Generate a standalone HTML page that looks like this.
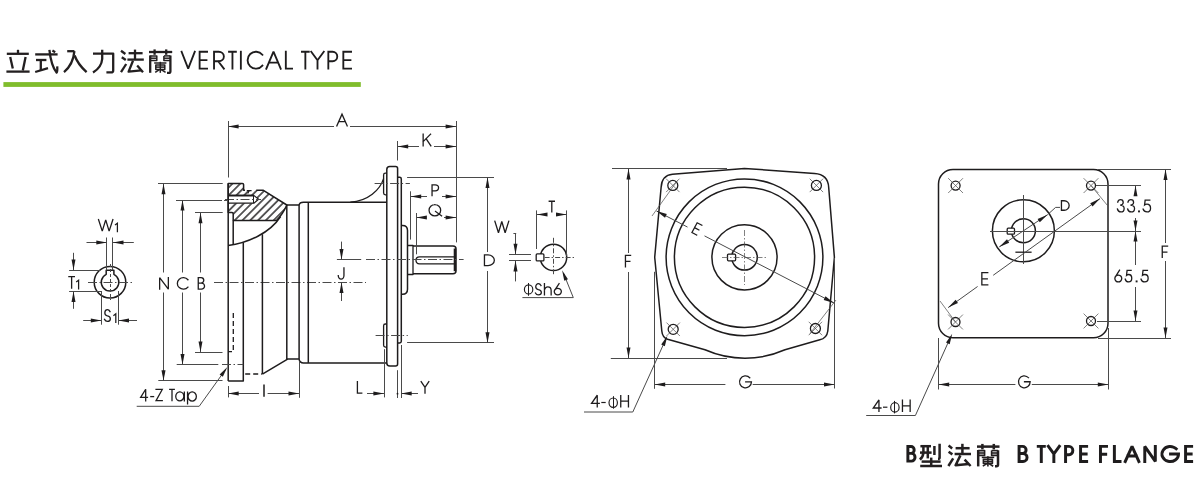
<!DOCTYPE html>
<html><head><meta charset="utf-8"><style>
html,body{margin:0;padding:0;background:#fff;}
body{width:1200px;height:500px;overflow:hidden;font-family:"Liberation Sans",sans-serif;}
svg{display:block;}
</style></head><body>
<svg width="1200" height="500" viewBox="0 0 1200 500">
<rect width="1200" height="500" fill="#fff"/>
<path d="M18,49.8 V53" stroke="#231f20" stroke-width="2.3" fill="none" stroke-linejoin="round" stroke-linecap="butt"/>
<path d="M6.8,53.8 H28.8" stroke="#231f20" stroke-width="2.3" fill="none" stroke-linejoin="round" stroke-linecap="butt"/>
<path d="M10.2,57 L12.8,68.6" stroke="#231f20" stroke-width="2.3" fill="none" stroke-linejoin="round" stroke-linecap="butt"/>
<path d="M25.6,57 L22.8,70.6" stroke="#231f20" stroke-width="2.3" fill="none" stroke-linejoin="round" stroke-linecap="butt"/>
<path d="M6.4,71.6 H29.6" stroke="#231f20" stroke-width="2.3" fill="none" stroke-linejoin="round" stroke-linecap="butt"/>
<path d="M35.2,54.4 H57.6" stroke="#231f20" stroke-width="2.3" fill="none" stroke-linejoin="round" stroke-linecap="butt"/>
<path d="M36,60 H46.4" stroke="#231f20" stroke-width="2.3" fill="none" stroke-linejoin="round" stroke-linecap="butt"/>
<path d="M40.8,60 V70.4" stroke="#231f20" stroke-width="2.3" fill="none" stroke-linejoin="round" stroke-linecap="butt"/>
<path d="M35.2,72 L48,68.2" stroke="#231f20" stroke-width="2.3" fill="none" stroke-linejoin="round" stroke-linecap="butt"/>
<path d="M49.4,49.8 C50.5,60 53,68 56.6,72.6 C57.3,72 57.4,69 57.2,66.4" stroke="#231f20" stroke-width="2.3" fill="none" stroke-linejoin="round" stroke-linecap="butt"/>
<path d="M52.4,50.6 L55.2,52.2" stroke="#231f20" stroke-width="2.3" fill="none" stroke-linejoin="round" stroke-linecap="butt"/>
<path d="M67.2,51.2 H74.4" stroke="#231f20" stroke-width="2.3" fill="none" stroke-linejoin="round" stroke-linecap="butt"/>
<path d="M74.4,51.2 C73.5,61 69,68 64,72.2" stroke="#231f20" stroke-width="2.3" fill="none" stroke-linejoin="round" stroke-linecap="butt"/>
<path d="M74.6,55.5 C77,62 82,68 86.6,72.2" stroke="#231f20" stroke-width="2.3" fill="none" stroke-linejoin="round" stroke-linecap="butt"/>
<path d="M93,53.6 H113.2 V70.4 Q113.2,72.4 111,72.4 H106.4" stroke="#231f20" stroke-width="2.3" fill="none" stroke-linejoin="round" stroke-linecap="butt"/>
<path d="M102.2,49.8 V59 C101.8,64 98,69.5 93,72.6" stroke="#231f20" stroke-width="2.3" fill="none" stroke-linejoin="round" stroke-linecap="butt"/>
<path d="M121,50.8 L125.4,54" stroke="#231f20" stroke-width="2.3" fill="none" stroke-linejoin="round" stroke-linecap="butt"/>
<path d="M121.8,57.2 L125.8,60" stroke="#231f20" stroke-width="2.3" fill="none" stroke-linejoin="round" stroke-linecap="butt"/>
<path d="M121,72.2 L126.2,64" stroke="#231f20" stroke-width="2.3" fill="none" stroke-linejoin="round" stroke-linecap="butt"/>
<path d="M128.6,53.2 H142.6" stroke="#231f20" stroke-width="2.3" fill="none" stroke-linejoin="round" stroke-linecap="butt"/>
<path d="M135,49.6 V59.6" stroke="#231f20" stroke-width="2.3" fill="none" stroke-linejoin="round" stroke-linecap="butt"/>
<path d="M127.4,59.6 H143.8" stroke="#231f20" stroke-width="2.3" fill="none" stroke-linejoin="round" stroke-linecap="butt"/>
<path d="M133,60.8 L128.6,71.6 L141.2,70.4" stroke="#231f20" stroke-width="2.3" fill="none" stroke-linejoin="round" stroke-linecap="butt"/>
<path d="M137.2,65.6 L143,72.2" stroke="#231f20" stroke-width="2.3" fill="none" stroke-linejoin="round" stroke-linecap="butt"/>
<path d="M149,52 H172.2" stroke="#231f20" stroke-width="2.3" fill="none" stroke-linejoin="round" stroke-linecap="butt"/>
<path d="M154.6,49.4 V54.8" stroke="#231f20" stroke-width="2.3" fill="none" stroke-linejoin="round" stroke-linecap="butt"/>
<path d="M166.2,49.4 V54.8" stroke="#231f20" stroke-width="2.3" fill="none" stroke-linejoin="round" stroke-linecap="butt"/>
<path d="M150.2,55.4 V72.8" stroke="#231f20" stroke-width="2.3" fill="none" stroke-linejoin="round" stroke-linecap="butt"/>
<path d="M170.4,55.6 V71.4 Q170.4,72.8 168.6,72.8 H167" stroke="#231f20" stroke-width="2.3" fill="none" stroke-linejoin="round" stroke-linecap="butt"/>
<path d="M150.2,55.9 H156.8 V60.6 H150.2" stroke="#231f20" stroke-width="1.5" fill="none" stroke-linejoin="round" stroke-linecap="butt"/>
<path d="M150.2,58.2 H156.8" stroke="#231f20" stroke-width="1.5" fill="none" stroke-linejoin="round" stroke-linecap="butt"/>
<path d="M163.9,55.9 H170.4" stroke="#231f20" stroke-width="1.5" fill="none" stroke-linejoin="round" stroke-linecap="butt"/>
<path d="M163.9,55.9 V60.6 H170.4" stroke="#231f20" stroke-width="1.5" fill="none" stroke-linejoin="round" stroke-linecap="butt"/>
<path d="M163.9,58.2 H170.4" stroke="#231f20" stroke-width="1.5" fill="none" stroke-linejoin="round" stroke-linecap="butt"/>
<path d="M154.2,63.0 H166.4" stroke="#231f20" stroke-width="1.5" fill="none" stroke-linejoin="round" stroke-linecap="butt"/>
<path d="M155.8,64.9 H164.8 V69.4 H155.8 Z" stroke="#231f20" stroke-width="1.5" fill="none" stroke-linejoin="round" stroke-linecap="butt"/>
<path d="M160.3,61.8 V72.8" stroke="#231f20" stroke-width="1.5" fill="none" stroke-linejoin="round" stroke-linecap="butt"/>
<path d="M155.8,67.1 H164.8" stroke="#231f20" stroke-width="1.5" fill="none" stroke-linejoin="round" stroke-linecap="butt"/>
<path d="M159.4,69.6 L155.2,72.4" stroke="#231f20" stroke-width="1.5" fill="none" stroke-linejoin="round" stroke-linecap="butt"/>
<path d="M161.2,69.6 L165.6,72.4" stroke="#231f20" stroke-width="1.5" fill="none" stroke-linejoin="round" stroke-linecap="butt"/>
<path d="M0,0 L0.5,1 L1,0" transform="translate(181.62 51.72) scale(13.150 16.950)" stroke="#1e1c1d" stroke-width="1.85" fill="none" vector-effect="non-scaling-stroke" stroke-linejoin="miter" stroke-miterlimit="2" stroke-linecap="square"/>
<path d="M1,0 H0 V1 H1 M0,0.5 H0.92" transform="translate(199.62 51.72) scale(7.450 16.950)" stroke="#1e1c1d" stroke-width="1.85" fill="none" vector-effect="non-scaling-stroke" stroke-linejoin="miter" stroke-miterlimit="2" stroke-linecap="square"/>
<path d="M0,1 V0 H0.48 A0.52,0.28 0 0 1 0.48,0.56 H0 M0.42,0.56 L1,1" transform="translate(214.03 51.72) scale(9.850 16.950)" stroke="#1e1c1d" stroke-width="1.85" fill="none" vector-effect="non-scaling-stroke" stroke-linejoin="miter" stroke-miterlimit="2" stroke-linecap="square"/>
<path d="M0,0 H1 M0.5,0 V1" transform="translate(229.03 51.72) scale(6.850 16.950)" stroke="#1e1c1d" stroke-width="1.85" fill="none" vector-effect="non-scaling-stroke" stroke-linejoin="miter" stroke-miterlimit="2" stroke-linecap="square"/>
<path d="M0.5,0 V1" transform="translate(240.93 51.72) scale(-0.150 16.950)" stroke="#1e1c1d" stroke-width="1.85" fill="none" vector-effect="non-scaling-stroke" stroke-linejoin="miter" stroke-miterlimit="2" stroke-linecap="square"/>
<path d="M1,0.18 A0.545,0.5 0 1 0 1,0.82" transform="translate(247.03 51.72) scale(15.350 16.950)" stroke="#1e1c1d" stroke-width="1.85" fill="none" vector-effect="non-scaling-stroke" stroke-linejoin="miter" stroke-miterlimit="2" stroke-linecap="square"/>
<path d="M0,1 L0.5,0 L1,1 M0.19,0.64 H0.81" transform="translate(266.32 51.72) scale(14.350 16.950)" stroke="#1e1c1d" stroke-width="1.85" fill="none" vector-effect="non-scaling-stroke" stroke-linejoin="miter" stroke-miterlimit="2" stroke-linecap="square"/>
<path d="M0,0 V1 H1" transform="translate(285.82 51.72) scale(6.250 16.950)" stroke="#1e1c1d" stroke-width="1.85" fill="none" vector-effect="non-scaling-stroke" stroke-linejoin="miter" stroke-miterlimit="2" stroke-linecap="square"/>
<path d="M0,0 H1 M0.5,0 V1" transform="translate(301.93 51.72) scale(6.850 16.950)" stroke="#1e1c1d" stroke-width="1.85" fill="none" vector-effect="non-scaling-stroke" stroke-linejoin="miter" stroke-miterlimit="2" stroke-linecap="square"/>
<path d="M0,0 L0.5,0.5 L1,0 M0.5,0.5 V1" transform="translate(311.23 51.72) scale(12.550 16.950)" stroke="#1e1c1d" stroke-width="1.85" fill="none" vector-effect="non-scaling-stroke" stroke-linejoin="miter" stroke-miterlimit="2" stroke-linecap="square"/>
<path d="M0,1 V0 H0.48 A0.52,0.28 0 0 1 0.48,0.56 H0" transform="translate(328.32 51.72) scale(8.950 16.950)" stroke="#1e1c1d" stroke-width="1.85" fill="none" vector-effect="non-scaling-stroke" stroke-linejoin="miter" stroke-miterlimit="2" stroke-linecap="square"/>
<path d="M1,0 H0 V1 H1 M0,0.5 H0.92" transform="translate(343.32 51.72) scale(7.750 16.950)" stroke="#1e1c1d" stroke-width="1.85" fill="none" vector-effect="non-scaling-stroke" stroke-linejoin="miter" stroke-miterlimit="2" stroke-linecap="square"/>
<rect x="3.4" y="82.1" width="357.4" height="4.8" fill="#80bd2c"/>
<circle cx="110.00" cy="282.20" r="15.80" stroke="#1e1c1d" stroke-width="1.5" fill="none"/>
<path d="M106.2,274.31 V270.3 H113.9 V274.31 A8.8,8.8 0 1 1 106.2,274.31 Z" stroke="#1e1c1d" stroke-width="1.5" fill="none" stroke-linejoin="round" />
<line x1="88.00" y1="282.50" x2="132.00" y2="282.50" stroke="#4a4a4a" stroke-width="1.0" stroke-dasharray="9 2.5 1.5 2.5" stroke-linecap="butt"/>
<line x1="110.50" y1="264.00" x2="110.50" y2="300.00" stroke="#4a4a4a" stroke-width="1.0" stroke-dasharray="3 2" stroke-linecap="butt"/>
<line x1="106.50" y1="237.50" x2="106.50" y2="270.30" stroke="#4a4a4a" stroke-width="1.0" stroke-linecap="butt"/>
<line x1="112.50" y1="237.50" x2="112.50" y2="270.30" stroke="#4a4a4a" stroke-width="1.0" stroke-linecap="butt"/>
<line x1="86.50" y1="242.50" x2="106.90" y2="242.50" stroke="#4a4a4a" stroke-width="1.0" stroke-linecap="butt"/>
<path d="M106.90,242.50 L96.30,244.50 L96.30,240.50 Z" fill="#1e1c1d"/>
<line x1="133.80" y1="242.50" x2="112.90" y2="242.50" stroke="#4a4a4a" stroke-width="1.0" stroke-linecap="butt"/>
<path d="M112.90,242.50 L123.50,240.50 L123.50,244.50 Z" fill="#1e1c1d"/>
<path d="M0,0 L0.26,1 L0.5,0.02 L0.74,1 L1,0" transform="translate(98.55 219.65) scale(14.300 11.500)" stroke="#1e1c1d" stroke-width="1.3" fill="none" vector-effect="non-scaling-stroke" stroke-linejoin="miter" stroke-miterlimit="3" stroke-linecap="square"/>
<path d="M115.00,225.10 L117.40,223.20 V232.20" stroke="#1e1c1d" stroke-width="1.25" fill="none" stroke-linejoin="miter"/>
<line x1="69.10" y1="270.50" x2="100.00" y2="270.50" stroke="#4a4a4a" stroke-width="1.0" stroke-linecap="butt"/>
<line x1="69.10" y1="291.50" x2="102.00" y2="291.50" stroke="#4a4a4a" stroke-width="1.0" stroke-linecap="butt"/>
<line x1="73.50" y1="252.80" x2="73.50" y2="270.10" stroke="#4a4a4a" stroke-width="1.0" stroke-linecap="butt"/>
<path d="M73.50,270.10 L71.50,259.50 L75.50,259.50 Z" fill="#1e1c1d"/>
<line x1="73.50" y1="308.80" x2="73.50" y2="291.30" stroke="#4a4a4a" stroke-width="1.0" stroke-linecap="butt"/>
<path d="M73.50,291.30 L75.50,301.90 L71.50,301.90 Z" fill="#1e1c1d"/>
<path d="M0,0 H1 M0.5,0 V1" transform="translate(68.90 276.65) scale(5.450 11.450)" stroke="#1e1c1d" stroke-width="1.3" fill="none" vector-effect="non-scaling-stroke" stroke-linejoin="miter" stroke-miterlimit="3" stroke-linecap="square"/>
<path d="M76.20,282.10 L78.60,280.20 V289.50" stroke="#1e1c1d" stroke-width="1.25" fill="none" stroke-linejoin="miter"/>
<line x1="101.50" y1="291.00" x2="101.50" y2="324.70" stroke="#4a4a4a" stroke-width="1.0" stroke-linecap="butt"/>
<line x1="118.50" y1="291.00" x2="118.50" y2="324.70" stroke="#4a4a4a" stroke-width="1.0" stroke-linecap="butt"/>
<line x1="83.20" y1="320.50" x2="101.40" y2="320.50" stroke="#4a4a4a" stroke-width="1.0" stroke-linecap="butt"/>
<path d="M101.40,320.50 L90.80,322.50 L90.80,318.50 Z" fill="#1e1c1d"/>
<line x1="137.00" y1="320.50" x2="118.40" y2="320.50" stroke="#4a4a4a" stroke-width="1.0" stroke-linecap="butt"/>
<path d="M118.40,320.50 L129.00,318.50 L129.00,322.50 Z" fill="#1e1c1d"/>
<path d="M0.94,0.17 C0.82,0.05 0.66,0 0.5,0 C0.24,0 0.05,0.12 0.05,0.28 C0.05,0.45 0.25,0.5 0.5,0.53 C0.8,0.56 1,0.64 1,0.79 C1,0.92 0.78,1 0.5,1 C0.3,1 0.1,0.94 0,0.83" transform="translate(104.55 309.65) scale(5.800 11.700)" stroke="#1e1c1d" stroke-width="1.3" fill="none" vector-effect="non-scaling-stroke" stroke-linejoin="miter" stroke-miterlimit="3" stroke-linecap="square"/>
<path d="M113.40,315.70 L115.80,313.80 V323.00" stroke="#1e1c1d" stroke-width="1.25" fill="none" stroke-linejoin="miter"/>
<line x1="158.00" y1="183.50" x2="222.70" y2="183.50" stroke="#4a4a4a" stroke-width="1.0" stroke-linecap="butt"/>
<line x1="176.00" y1="200.50" x2="219.00" y2="200.50" stroke="#4a4a4a" stroke-width="1.0" stroke-linecap="butt"/>
<line x1="195.00" y1="212.50" x2="222.70" y2="212.50" stroke="#4a4a4a" stroke-width="1.0" stroke-linecap="butt"/>
<line x1="158.30" y1="380.50" x2="222.50" y2="380.50" stroke="#4a4a4a" stroke-width="1.0" stroke-linecap="butt"/>
<line x1="176.70" y1="364.50" x2="218.30" y2="364.50" stroke="#4a4a4a" stroke-width="1.0" stroke-linecap="butt"/>
<line x1="195.00" y1="352.50" x2="222.50" y2="352.50" stroke="#4a4a4a" stroke-width="1.0" stroke-linecap="butt"/>
<line x1="163.50" y1="272.50" x2="163.50" y2="183.70" stroke="#4a4a4a" stroke-width="1.0" stroke-linecap="butt"/>
<path d="M163.50,183.70 L165.50,194.30 L161.50,194.30 Z" fill="#1e1c1d"/>
<line x1="163.50" y1="292.50" x2="163.50" y2="380.80" stroke="#4a4a4a" stroke-width="1.0" stroke-linecap="butt"/>
<path d="M163.50,380.80 L161.50,370.20 L165.50,370.20 Z" fill="#1e1c1d"/>
<line x1="182.50" y1="272.50" x2="182.50" y2="200.00" stroke="#4a4a4a" stroke-width="1.0" stroke-linecap="butt"/>
<path d="M182.50,200.00 L184.50,210.60 L180.50,210.60 Z" fill="#1e1c1d"/>
<line x1="182.50" y1="292.50" x2="182.50" y2="364.70" stroke="#4a4a4a" stroke-width="1.0" stroke-linecap="butt"/>
<path d="M182.50,364.70 L180.50,354.10 L184.50,354.10 Z" fill="#1e1c1d"/>
<line x1="200.50" y1="272.50" x2="200.50" y2="212.70" stroke="#4a4a4a" stroke-width="1.0" stroke-linecap="butt"/>
<path d="M200.50,212.70 L202.50,223.30 L198.50,223.30 Z" fill="#1e1c1d"/>
<line x1="200.50" y1="292.50" x2="200.50" y2="352.00" stroke="#4a4a4a" stroke-width="1.0" stroke-linecap="butt"/>
<path d="M200.50,352.00 L198.50,341.40 L202.50,341.40 Z" fill="#1e1c1d"/>
<path d="M0,1 V0 L1,1 V0" transform="translate(159.65 277.65) scale(8.700 11.500)" stroke="#1e1c1d" stroke-width="1.3" fill="none" vector-effect="non-scaling-stroke" stroke-linejoin="miter" stroke-miterlimit="3" stroke-linecap="square"/>
<path d="M1,0.18 A0.545,0.5 0 1 0 1,0.82" transform="translate(176.95 277.65) scale(11.000 11.500)" stroke="#1e1c1d" stroke-width="1.3" fill="none" vector-effect="non-scaling-stroke" stroke-linejoin="miter" stroke-miterlimit="3" stroke-linecap="square"/>
<path d="M0,0.47 H0.44 A0.44,0.235 0 0 0 0.44,0 H0 V1 H0.5 A0.5,0.265 0 0 0 0.5,0.47" transform="translate(198.25 277.65) scale(6.300 11.500)" stroke="#1e1c1d" stroke-width="1.3" fill="none" vector-effect="non-scaling-stroke" stroke-linejoin="miter" stroke-miterlimit="3" stroke-linecap="square"/>
<line x1="214.00" y1="282.50" x2="366.00" y2="282.50" stroke="#4a4a4a" stroke-width="1.0" stroke-dasharray="9 2.5 1.5 2.5" stroke-linecap="butt"/>
<defs><pattern id="hp" patternUnits="userSpaceOnUse" width="5.5" height="5.5" patternTransform="rotate(45)"><line x1="2.75" y1="0" x2="2.75" y2="5.5" stroke="#1e1c1d" stroke-width="1.4"/></pattern><clipPath id="hc"><path d="M228.2,183.4 H242.4 Q243.6,183.4 243.6,184.6 V190.3 H263.4 L286.8,205.0 Q283,214 276.4,220.5 H233.2 V213.7 Q233.2,212.5 232,212.5 H228.2 Z"/></clipPath></defs>
<rect x="225" y="180" width="65" height="45" fill="url(#hp)" clip-path="url(#hc)"/>
<path d="M228.2,195.4 H253.8 L258.6,199.3 L253.8,203.2 H228.2 Z" fill="#fff" stroke="none"/>
<path d="M256.2,190.3 H263.4 L286.8,205.0 Q283,214 276.4,220.5 H233.2 V213.7 Q233.2,212.5 232,212.5 H228.2 V183.4 H242.4 Q243.6,183.4 243.6,184.6 V190.3 H245" stroke="#1e1c1d" stroke-width="1.5" fill="none" stroke-linejoin="round" />
<path d="M228.2,195.4 H253.8 L258.6,199.3 L253.8,203.2 H228.2" stroke="#1e1c1d" stroke-width="1.2" fill="none" stroke-linejoin="round" />
<line x1="228.20" y1="195.60" x2="253.80" y2="195.60" stroke="#1e1c1d" stroke-width="1.8" stroke-linecap="butt"/>
<line x1="253.50" y1="195.40" x2="253.50" y2="203.20" stroke="#1e1c1d" stroke-width="1.0" stroke-linecap="butt"/>
<line x1="225.00" y1="199.50" x2="261.00" y2="199.50" stroke="#4a4a4a" stroke-width="1.0" stroke-dasharray="9 2.5 1.5 2.5" stroke-linecap="butt"/>
<line x1="219.00" y1="200.50" x2="228.00" y2="200.50" stroke="#4a4a4a" stroke-width="1.0" stroke-dasharray="3 2" stroke-linecap="butt"/>
<path d="M246.8,190.6 H251.6 M249.2,190.6 L247.8,193.4" stroke="#1e1c1d" stroke-width="1.1" fill="none" stroke-linejoin="round" />
<line x1="228.20" y1="183.40" x2="228.20" y2="381.10" stroke="#1e1c1d" stroke-width="1.5" stroke-linecap="butt"/>
<path d="M228.2,381.1 H243.3 V242.5" stroke="#1e1c1d" stroke-width="1.5" fill="none" stroke-linejoin="round" />
<line x1="233.20" y1="220.50" x2="233.20" y2="244.80" stroke="#1e1c1d" stroke-width="1.5" stroke-linecap="butt"/>
<path d="M228.2,245.6 C248,243 270,233 280.6,216.5" stroke="#1e1c1d" stroke-width="1.5" fill="none" stroke-linejoin="round" />
<line x1="262.40" y1="234.20" x2="262.40" y2="374.10" stroke="#1e1c1d" stroke-width="1.5" stroke-linecap="butt"/>
<path d="M286.8,205 V359.1" stroke="#1e1c1d" stroke-width="1.5" fill="none" stroke-linejoin="round" />
<path d="M286.8,205 H299.1 V359.1 H286.8 M262.4,374.1 L287.6,359.1" stroke="#1e1c1d" stroke-width="1.5" fill="none" stroke-linejoin="round" />
<path d="M299.1,205 Q299.6,202.2 303.5,202.2 H386.8" stroke="#1e1c1d" stroke-width="1.5" fill="none" stroke-linejoin="round" />
<path d="M299.1,359.1 Q299.6,362.9 303.5,362.9 H386.8" stroke="#1e1c1d" stroke-width="1.5" fill="none" stroke-linejoin="round" />
<line x1="308.30" y1="202.20" x2="308.30" y2="362.90" stroke="#1e1c1d" stroke-width="1.5" stroke-linecap="butt"/>
<line x1="245.20" y1="374.10" x2="262.00" y2="374.10" stroke="#1e1c1d" stroke-width="1.5" stroke-dasharray="5 3" stroke-linecap="butt"/>
<path d="M233.3,313 V351.7 H228.2" stroke="#1e1c1d" stroke-width="1.3" fill="none" stroke-dasharray="5 3" stroke-linejoin="round" />
<line x1="222.00" y1="364.50" x2="243.30" y2="364.50" stroke="#4a4a4a" stroke-width="1.0" stroke-dasharray="9 2.5 1.5 2.5" stroke-linecap="butt"/>
<path d="M350.4,202.2 C368,201 380,190 383.6,178.6" stroke="#1e1c1d" stroke-width="1.3" fill="none" stroke-linejoin="round" />
<path d="M136.7,406.3 H199.2 L225.6,369.5" stroke="#4a4a4a" stroke-width="1.0" fill="none" stroke-linejoin="round" />
<path d="M227.40,367.00 L222.85,376.78 L219.60,374.45 Z" fill="#1e1c1d"/>
<path d="M0.74,1 V0 L0,0.7 H1" transform="translate(140.65 389.25) scale(6.800 11.600)" stroke="#1e1c1d" stroke-width="1.3" fill="none" vector-effect="non-scaling-stroke" stroke-linejoin="miter" stroke-miterlimit="3" stroke-linecap="square"/>
<line x1="150.20" y1="396.60" x2="154.20" y2="396.60" stroke="#1e1c1d" stroke-width="1.3" stroke-linecap="butt"/>
<path d="M0,0 H1 L0,1 H1" transform="translate(156.05 389.45) scale(6.200 11.200)" stroke="#1e1c1d" stroke-width="1.3" fill="none" vector-effect="non-scaling-stroke" stroke-linejoin="miter" stroke-miterlimit="3" stroke-linecap="square"/>
<path d="M0,0 H1 M0.5,0 V1" transform="translate(169.75 389.45) scale(4.500 11.200)" stroke="#1e1c1d" stroke-width="1.3" fill="none" vector-effect="non-scaling-stroke" stroke-linejoin="miter" stroke-miterlimit="3" stroke-linecap="square"/>
<path d="M0.47,0 A0.47,0.5 0 1 0 0.47,1 A0.47,0.5 0 1 0 0.47,0 M1,0.02 V1" transform="translate(175.75 391.85) scale(8.600 9.000)" stroke="#1e1c1d" stroke-width="1.3" fill="none" vector-effect="non-scaling-stroke" stroke-linejoin="miter" stroke-miterlimit="3" stroke-linecap="square"/>
<path d="M0,0.02 V1 M0.53,0 A0.47,0.385 0 1 1 0.53,0.77 A0.47,0.385 0 1 1 0.53,0" transform="translate(187.55 391.85) scale(8.800 12.100)" stroke="#1e1c1d" stroke-width="1.3" fill="none" vector-effect="non-scaling-stroke" stroke-linejoin="miter" stroke-miterlimit="3" stroke-linecap="square"/>
<line x1="228.50" y1="386.00" x2="228.50" y2="397.40" stroke="#4a4a4a" stroke-width="1.0" stroke-linecap="butt"/>
<line x1="299.50" y1="361.50" x2="299.50" y2="397.80" stroke="#4a4a4a" stroke-width="1.0" stroke-linecap="butt"/>
<line x1="259.00" y1="393.50" x2="228.10" y2="393.50" stroke="#4a4a4a" stroke-width="1.0" stroke-linecap="butt"/>
<path d="M228.10,393.50 L238.70,391.50 L238.70,395.50 Z" fill="#1e1c1d"/>
<line x1="267.60" y1="393.50" x2="299.10" y2="393.50" stroke="#4a4a4a" stroke-width="1.0" stroke-linecap="butt"/>
<path d="M299.10,393.50 L288.50,395.50 L288.50,391.50 Z" fill="#1e1c1d"/>
<line x1="264.00" y1="384.40" x2="264.00" y2="396.70" stroke="#1e1c1d" stroke-width="1.5" stroke-linecap="butt"/>
<path d="M386.8,169.5 Q386.8,166.5 389.8,166.5 H395.6 Q397.6,166.5 397.6,168.5 V364 Q397.6,366 395.6,366 H389.8 Q386.8,366 386.8,363 Z" stroke="#1e1c1d" stroke-width="1.5" fill="none" stroke-linejoin="round" />
<path d="M397.6,177.3 H399.6 Q401.3,177.3 401.3,179 V341.2 Q401.3,342.9 399.6,342.9 H397.6" stroke="#1e1c1d" stroke-width="1.5" fill="none" stroke-linejoin="round" />
<path d="M386.8,173.1 H385.4 Q383.6,173.1 383.6,174.9 V193 Q383.6,194.8 385.4,194.8 H386.8" stroke="#1e1c1d" stroke-width="1.3" fill="none" stroke-linejoin="round" />
<path d="M386.8,324 H385.4 Q383.6,324 383.6,325.8 V345.3 Q383.6,347.1 385.4,347.1 H386.8" stroke="#1e1c1d" stroke-width="1.3" fill="none" stroke-linejoin="round" />
<line x1="374.60" y1="183.50" x2="409.90" y2="183.50" stroke="#4a4a4a" stroke-width="1.0" stroke-dasharray="9 2.5 1.5 2.5" stroke-linecap="butt"/>
<line x1="375.60" y1="335.50" x2="407.80" y2="335.50" stroke="#4a4a4a" stroke-width="1.0" stroke-dasharray="9 2.5 1.5 2.5" stroke-linecap="butt"/>
<path d="M401.3,225.4 H402.5 Q407.5,225.4 407.5,230.4 V289.2 Q407.5,294.2 402.5,294.2 H401.3" stroke="#1e1c1d" stroke-width="1.5" fill="none" stroke-linejoin="round" />
<path d="M407.5,245.5 H413 V274.5 H407.5" stroke="#1e1c1d" stroke-width="1.3" fill="none" stroke-linejoin="round" />
<path d="M413,246 H453 A3,3 0 0 1 456,249 V270.7 A3,3 0 0 1 453,273.7 H413" stroke="#1e1c1d" stroke-width="1.5" fill="none" stroke-linejoin="round" />
<line x1="454.90" y1="248.50" x2="454.90" y2="271.20" stroke="#1e1c1d" stroke-width="2.4" stroke-linecap="butt"/>
<path d="M456,256.8 H419.5 Q416,256.8 416,260.3 Q416,263.8 419.5,263.8 H456" stroke="#1e1c1d" stroke-width="1.3" fill="none" stroke-linejoin="round" />
<line x1="336.90" y1="259.50" x2="361.20" y2="259.50" stroke="#4a4a4a" stroke-width="1.0" stroke-linecap="butt"/>
<line x1="366.00" y1="259.50" x2="463.60" y2="259.50" stroke="#4a4a4a" stroke-width="1.0" stroke-dasharray="9 2.5 1.5 2.5" stroke-linecap="butt"/>
<line x1="341.50" y1="241.60" x2="341.50" y2="259.60" stroke="#4a4a4a" stroke-width="1.0" stroke-linecap="butt"/>
<path d="M341.50,259.60 L339.50,249.00 L343.50,249.00 Z" fill="#1e1c1d"/>
<line x1="341.50" y1="301.00" x2="341.50" y2="282.30" stroke="#4a4a4a" stroke-width="1.0" stroke-linecap="butt"/>
<path d="M341.50,282.30 L343.50,292.90 L339.50,292.90 Z" fill="#1e1c1d"/>
<path d="M1,0 V0.68 A0.5,0.32 0 0 1 0,0.68" transform="translate(338.25 267.85) scale(5.700 11.300)" stroke="#1e1c1d" stroke-width="1.3" fill="none" vector-effect="non-scaling-stroke" stroke-linejoin="miter" stroke-miterlimit="3" stroke-linecap="square"/>
<line x1="228.50" y1="121.00" x2="228.50" y2="177.50" stroke="#4a4a4a" stroke-width="1.0" stroke-linecap="butt"/>
<line x1="456.50" y1="121.00" x2="456.50" y2="242.40" stroke="#4a4a4a" stroke-width="1.0" stroke-linecap="butt"/>
<line x1="334.00" y1="126.50" x2="228.00" y2="126.50" stroke="#4a4a4a" stroke-width="1.0" stroke-linecap="butt"/>
<path d="M228.00,126.50 L238.60,124.50 L238.60,128.50 Z" fill="#1e1c1d"/>
<line x1="350.00" y1="126.50" x2="456.25" y2="126.50" stroke="#4a4a4a" stroke-width="1.0" stroke-linecap="butt"/>
<path d="M456.25,126.50 L445.65,128.50 L445.65,124.50 Z" fill="#1e1c1d"/>
<path d="M0,1 L0.5,0 L1,1 M0.19,0.64 H0.81" transform="translate(336.85 114.15) scale(10.300 11.700)" stroke="#1e1c1d" stroke-width="1.3" fill="none" vector-effect="non-scaling-stroke" stroke-linejoin="miter" stroke-miterlimit="3" stroke-linecap="square"/>
<line x1="397.50" y1="141.00" x2="397.50" y2="160.50" stroke="#4a4a4a" stroke-width="1.0" stroke-linecap="butt"/>
<line x1="419.00" y1="146.50" x2="397.60" y2="146.50" stroke="#4a4a4a" stroke-width="1.0" stroke-linecap="butt"/>
<path d="M397.60,146.50 L408.20,144.50 L408.20,148.50 Z" fill="#1e1c1d"/>
<line x1="434.00" y1="146.50" x2="456.25" y2="146.50" stroke="#4a4a4a" stroke-width="1.0" stroke-linecap="butt"/>
<path d="M456.25,146.50 L445.65,148.50 L445.65,144.50 Z" fill="#1e1c1d"/>
<path d="M0,0 V1 M0.97,0 L0,0.64 M0.38,0.39 L1,1" transform="translate(423.15 134.15) scale(7.700 11.700)" stroke="#1e1c1d" stroke-width="1.3" fill="none" vector-effect="non-scaling-stroke" stroke-linejoin="miter" stroke-miterlimit="3" stroke-linecap="square"/>
<line x1="410.50" y1="191.30" x2="410.50" y2="239.60" stroke="#4a4a4a" stroke-width="1.0" stroke-linecap="butt"/>
<line x1="427.00" y1="196.50" x2="410.60" y2="196.50" stroke="#4a4a4a" stroke-width="1.0" stroke-linecap="butt"/>
<path d="M410.60,196.50 L421.20,194.50 L421.20,198.50 Z" fill="#1e1c1d"/>
<line x1="442.00" y1="196.50" x2="456.25" y2="196.50" stroke="#4a4a4a" stroke-width="1.0" stroke-linecap="butt"/>
<path d="M456.25,196.50 L445.65,198.50 L445.65,194.50 Z" fill="#1e1c1d"/>
<path d="M0,1 V0 H0.48 A0.52,0.28 0 0 1 0.48,0.56 H0" transform="translate(432.05 184.85) scale(6.500 10.700)" stroke="#1e1c1d" stroke-width="1.3" fill="none" vector-effect="non-scaling-stroke" stroke-linejoin="miter" stroke-miterlimit="3" stroke-linecap="square"/>
<line x1="416.50" y1="213.00" x2="416.50" y2="254.30" stroke="#4a4a4a" stroke-width="1.0" stroke-linecap="butt"/>
<line x1="425.00" y1="217.50" x2="416.30" y2="217.50" stroke="#4a4a4a" stroke-width="1.0" stroke-linecap="butt"/>
<path d="M416.30,217.50 L426.90,215.50 L426.90,219.50 Z" fill="#1e1c1d"/>
<line x1="444.00" y1="217.50" x2="456.25" y2="217.50" stroke="#4a4a4a" stroke-width="1.0" stroke-linecap="butt"/>
<path d="M456.25,217.50 L445.65,219.50 L445.65,215.50 Z" fill="#1e1c1d"/>
<path d="M0.465,0 A0.465,0.5 0 1 1 0.465,1 A0.465,0.5 0 1 1 0.465,0 M0.52,0.6 L1,1" transform="translate(429.05 204.65) scale(12.500 11.300)" stroke="#1e1c1d" stroke-width="1.3" fill="none" vector-effect="non-scaling-stroke" stroke-linejoin="miter" stroke-miterlimit="3" stroke-linecap="square"/>
<line x1="407.10" y1="177.50" x2="494.00" y2="177.50" stroke="#4a4a4a" stroke-width="1.0" stroke-linecap="butt"/>
<line x1="407.10" y1="342.50" x2="494.00" y2="342.50" stroke="#4a4a4a" stroke-width="1.0" stroke-linecap="butt"/>
<line x1="487.50" y1="252.00" x2="487.50" y2="177.30" stroke="#4a4a4a" stroke-width="1.0" stroke-linecap="butt"/>
<path d="M487.50,177.30 L489.50,187.90 L485.50,187.90 Z" fill="#1e1c1d"/>
<line x1="487.50" y1="271.00" x2="487.50" y2="342.90" stroke="#4a4a4a" stroke-width="1.0" stroke-linecap="butt"/>
<path d="M487.50,342.90 L485.50,332.30 L489.50,332.30 Z" fill="#1e1c1d"/>
<path d="M0,0 V1 H0.36 A0.64,0.5 0 0 0 0.36,0 Z" transform="translate(484.45 254.85) scale(9.900 10.700)" stroke="#1e1c1d" stroke-width="1.3" fill="none" vector-effect="non-scaling-stroke" stroke-linejoin="miter" stroke-miterlimit="3" stroke-linecap="square"/>
<line x1="384.50" y1="349.20" x2="384.50" y2="397.40" stroke="#4a4a4a" stroke-width="1.0" stroke-linecap="butt"/>
<line x1="397.50" y1="370.20" x2="397.50" y2="398.00" stroke="#4a4a4a" stroke-width="1.0" stroke-linecap="butt"/>
<line x1="401.50" y1="345.00" x2="401.50" y2="398.00" stroke="#4a4a4a" stroke-width="1.0" stroke-linecap="butt"/>
<line x1="367.00" y1="393.50" x2="384.00" y2="393.50" stroke="#4a4a4a" stroke-width="1.0" stroke-linecap="butt"/>
<path d="M384.00,393.50 L373.40,395.50 L373.40,391.50 Z" fill="#1e1c1d"/>
<line x1="418.00" y1="393.50" x2="401.10" y2="393.50" stroke="#4a4a4a" stroke-width="1.0" stroke-linecap="butt"/>
<path d="M401.10,393.50 L411.70,391.50 L411.70,395.50 Z" fill="#1e1c1d"/>
<circle cx="397.50" cy="393.70" r="0.90" stroke="#1e1c1d" stroke-width="0" fill="#1e1c1d"/>
<path d="M0,0 V1 H1" transform="translate(357.40 381.65) scale(4.350 11.450)" stroke="#1e1c1d" stroke-width="1.3" fill="none" vector-effect="non-scaling-stroke" stroke-linejoin="miter" stroke-miterlimit="3" stroke-linecap="square"/>
<path d="M0,0 L0.5,0.5 L1,0 M0.5,0.5 V1" transform="translate(421.15 381.65) scale(7.700 11.450)" stroke="#1e1c1d" stroke-width="1.3" fill="none" vector-effect="non-scaling-stroke" stroke-linejoin="miter" stroke-miterlimit="3" stroke-linecap="square"/>
<circle cx="553.50" cy="257.40" r="13.20" stroke="#1e1c1d" stroke-width="1.5" fill="none"/>
<rect x="536.2" y="253.9" width="7.7" height="7.0" fill="#fff" stroke="#1e1c1d" stroke-width="1.3" rx="1"/>
<line x1="553.50" y1="237.80" x2="553.50" y2="274.20" stroke="#4a4a4a" stroke-width="1.0" stroke-dasharray="5 2 1.5 2" stroke-linecap="butt"/>
<line x1="544.60" y1="257.50" x2="574.00" y2="257.50" stroke="#4a4a4a" stroke-width="1.0" stroke-dasharray="5 2 1.5 2" stroke-linecap="butt"/>
<line x1="536.50" y1="210.40" x2="536.50" y2="249.00" stroke="#4a4a4a" stroke-width="1.0" stroke-linecap="butt"/>
<line x1="566.50" y1="210.40" x2="566.50" y2="256.00" stroke="#4a4a4a" stroke-width="1.0" stroke-linecap="butt"/>
<line x1="546.00" y1="214.50" x2="536.90" y2="214.50" stroke="#4a4a4a" stroke-width="1.0" stroke-linecap="butt"/>
<path d="M536.90,214.50 L547.50,212.50 L547.50,216.50 Z" fill="#1e1c1d"/>
<line x1="557.50" y1="214.50" x2="566.60" y2="214.50" stroke="#4a4a4a" stroke-width="1.0" stroke-linecap="butt"/>
<path d="M566.60,214.50 L556.00,216.50 L556.00,212.50 Z" fill="#1e1c1d"/>
<path d="M0,0 H1 M0.5,0 V1" transform="translate(549.25 201.25) scale(5.100 10.700)" stroke="#1e1c1d" stroke-width="1.3" fill="none" vector-effect="non-scaling-stroke" stroke-linejoin="miter" stroke-miterlimit="3" stroke-linecap="square"/>
<line x1="509.00" y1="254.50" x2="531.00" y2="254.50" stroke="#4a4a4a" stroke-width="1.0" stroke-linecap="butt"/>
<line x1="509.00" y1="260.50" x2="531.00" y2="260.50" stroke="#4a4a4a" stroke-width="1.0" stroke-linecap="butt"/>
<line x1="515.50" y1="233.40" x2="515.50" y2="254.40" stroke="#4a4a4a" stroke-width="1.0" stroke-linecap="butt"/>
<path d="M515.50,254.40 L513.50,243.80 L517.50,243.80 Z" fill="#1e1c1d"/>
<line x1="513.40" y1="233.50" x2="516.20" y2="233.50" stroke="#4a4a4a" stroke-width="1.0" stroke-linecap="butt"/>
<line x1="515.50" y1="281.40" x2="515.50" y2="260.80" stroke="#4a4a4a" stroke-width="1.0" stroke-linecap="butt"/>
<path d="M515.50,260.80 L517.50,271.40 L513.50,271.40 Z" fill="#1e1c1d"/>
<path d="M0,0 L0.26,1 L0.5,0.02 L0.74,1 L1,0" transform="translate(494.85 221.25) scale(13.900 11.500)" stroke="#1e1c1d" stroke-width="1.3" fill="none" vector-effect="non-scaling-stroke" stroke-linejoin="miter" stroke-miterlimit="3" stroke-linecap="square"/>
<ellipse cx="528.6" cy="289.4" rx="4.2" ry="4.6" stroke="#1e1c1d" stroke-width="1.15" fill="none"/>
<line x1="528.50" y1="283.00" x2="528.50" y2="295.80" stroke="#1e1c1d" stroke-width="1.0" stroke-linecap="butt"/>
<path d="M0.94,0.17 C0.82,0.05 0.66,0 0.5,0 C0.24,0 0.05,0.12 0.05,0.28 C0.05,0.45 0.25,0.5 0.5,0.53 C0.8,0.56 1,0.64 1,0.79 C1,0.92 0.78,1 0.5,1 C0.3,1 0.1,0.94 0,0.83" transform="translate(535.45 283.65) scale(5.900 11.300)" stroke="#1e1c1d" stroke-width="1.3" fill="none" vector-effect="non-scaling-stroke" stroke-linejoin="miter" stroke-miterlimit="3" stroke-linecap="square"/>
<path d="M0,0 V1 M0,0.56 C0.08,0.38 0.26,0.29 0.5,0.29 C0.8,0.29 1,0.42 1,0.62 V1" transform="translate(544.45 283.65) scale(6.700 11.300)" stroke="#1e1c1d" stroke-width="1.3" fill="none" vector-effect="non-scaling-stroke" stroke-linejoin="miter" stroke-miterlimit="3" stroke-linecap="square"/>
<path d="M0.68,0 L0.1,0.55 M0.5,0.41 A0.5,0.295 0 1 0 0.5,1 A0.5,0.295 0 1 0 0.5,0.41" transform="translate(554.25 283.65) scale(7.100 11.300)" stroke="#1e1c1d" stroke-width="1.3" fill="none" vector-effect="non-scaling-stroke" stroke-linejoin="miter" stroke-miterlimit="3" stroke-linecap="square"/>
<path d="M522.4,297.6 H573.3 L563.4,273.0" stroke="#4a4a4a" stroke-width="1.0" fill="none" stroke-linejoin="round" />
<path d="M562.10,270.20 L567.96,279.26 L564.26,280.77 Z" fill="#1e1c1d"/>
<path d="M744.4,168.4 L814.5,173.6 Q828.0,174.4 828.7,187.5 L834.4,257.3 L827.8,331.0 Q826.8,338.4 819.8,339.8 L785,349.8 A99.2,99.2 0 0 1 705,349.8 L667.6,339.2 Q662.4,337.6 661.8,331.0 L654.7,257.3 L661.1,187.5 Q661.8,175.2 672.5,174.3 Z" stroke="#1e1c1d" stroke-width="1.5" fill="none" stroke-linejoin="round" />
<circle cx="744.50" cy="257.30" r="78.40" stroke="#1e1c1d" stroke-width="1.5" fill="none"/>
<circle cx="744.50" cy="257.30" r="70.10" stroke="#1e1c1d" stroke-width="1.5" fill="none"/>
<circle cx="744.50" cy="257.30" r="32.60" stroke="#1e1c1d" stroke-width="1.5" fill="none"/>
<circle cx="744.50" cy="257.30" r="12.80" stroke="#1e1c1d" stroke-width="1.5" fill="none"/>
<rect x="727.5" y="254.1" width="8.1" height="6.7" fill="#fff" stroke="#1e1c1d" stroke-width="1.3" rx="1"/>
<line x1="744.50" y1="230.00" x2="744.50" y2="285.00" stroke="#4a4a4a" stroke-width="0.7" stroke-dasharray="6 2 1.5 2" stroke-linecap="butt"/>
<line x1="722.00" y1="257.50" x2="767.00" y2="257.50" stroke="#4a4a4a" stroke-width="0.7" stroke-dasharray="6 2 1.5 2" stroke-linecap="butt"/>
<circle cx="672.80" cy="185.40" r="5.00" stroke="#1e1c1d" stroke-width="1.3" fill="none"/>
<line x1="666.08" y1="178.68" x2="679.52" y2="192.12" stroke="#4a4a4a" stroke-width="0.7" stroke-linecap="butt"/>
<line x1="666.08" y1="192.12" x2="679.52" y2="178.68" stroke="#4a4a4a" stroke-width="0.7" stroke-linecap="butt"/>
<circle cx="816.40" cy="185.40" r="5.00" stroke="#1e1c1d" stroke-width="1.3" fill="none"/>
<line x1="809.68" y1="178.68" x2="823.12" y2="192.12" stroke="#4a4a4a" stroke-width="0.7" stroke-linecap="butt"/>
<line x1="809.68" y1="192.12" x2="823.12" y2="178.68" stroke="#4a4a4a" stroke-width="0.7" stroke-linecap="butt"/>
<circle cx="673.20" cy="329.30" r="5.00" stroke="#1e1c1d" stroke-width="1.3" fill="none"/>
<line x1="666.48" y1="322.58" x2="679.92" y2="336.02" stroke="#4a4a4a" stroke-width="0.7" stroke-linecap="butt"/>
<line x1="666.48" y1="336.02" x2="679.92" y2="322.58" stroke="#4a4a4a" stroke-width="0.7" stroke-linecap="butt"/>
<circle cx="815.40" cy="328.50" r="5.00" stroke="#1e1c1d" stroke-width="1.3" fill="none"/>
<line x1="808.68" y1="321.78" x2="822.12" y2="335.22" stroke="#4a4a4a" stroke-width="0.7" stroke-linecap="butt"/>
<line x1="808.68" y1="335.22" x2="822.12" y2="321.78" stroke="#4a4a4a" stroke-width="0.7" stroke-linecap="butt"/>
<line x1="677.50" y1="180.50" x2="652.00" y2="216.00" stroke="#4a4a4a" stroke-width="0.7" stroke-linecap="butt"/>
<line x1="810.00" y1="333.50" x2="836.00" y2="300.00" stroke="#4a4a4a" stroke-width="0.7" stroke-linecap="butt"/>
<line x1="687.50" y1="227.07" x2="656.50" y2="211.00" stroke="#4a4a4a" stroke-width="1.0" stroke-linecap="butt"/>
<path d="M656.50,211.00 L666.83,214.10 L664.99,217.65 Z" fill="#1e1c1d"/>
<line x1="704.50" y1="235.88" x2="834.00" y2="303.00" stroke="#4a4a4a" stroke-width="1.0" stroke-linecap="butt"/>
<path d="M834.00,303.00 L823.67,299.90 L825.51,296.35 Z" fill="#1e1c1d"/>
<path d="M1,0 H0 V1 H1 M0,0.5 H0.92" transform="rotate(28 696.9 228.9) translate(694.25 223.35) scale(5.300 11.100)" stroke="#1e1c1d" stroke-width="1.3" fill="none" vector-effect="non-scaling-stroke" stroke-linejoin="miter" stroke-miterlimit="3" stroke-linecap="square"/>
<line x1="612.00" y1="168.50" x2="727.00" y2="168.50" stroke="#4a4a4a" stroke-width="1.0" stroke-linecap="butt"/>
<line x1="610.80" y1="358.50" x2="727.00" y2="358.50" stroke="#4a4a4a" stroke-width="1.0" stroke-linecap="butt"/>
<line x1="628.50" y1="253.00" x2="628.50" y2="168.80" stroke="#4a4a4a" stroke-width="1.0" stroke-linecap="butt"/>
<path d="M628.50,168.80 L630.50,179.40 L626.50,179.40 Z" fill="#1e1c1d"/>
<line x1="628.50" y1="272.00" x2="628.50" y2="358.00" stroke="#4a4a4a" stroke-width="1.0" stroke-linecap="butt"/>
<path d="M628.50,358.00 L626.50,347.40 L630.50,347.40 Z" fill="#1e1c1d"/>
<path d="M1,0 H0 V1 M0,0.52 H0.86" transform="translate(625.45 255.45) scale(5.100 11.500)" stroke="#1e1c1d" stroke-width="1.3" fill="none" vector-effect="non-scaling-stroke" stroke-linejoin="miter" stroke-miterlimit="3" stroke-linecap="square"/>
<line x1="654.50" y1="271.80" x2="654.50" y2="388.80" stroke="#4a4a4a" stroke-width="1.0" stroke-linecap="butt"/>
<line x1="834.50" y1="258.00" x2="834.50" y2="388.50" stroke="#4a4a4a" stroke-width="1.0" stroke-linecap="butt"/>
<line x1="725.40" y1="384.50" x2="654.60" y2="384.50" stroke="#4a4a4a" stroke-width="1.0" stroke-linecap="butt"/>
<path d="M654.60,384.50 L665.20,382.50 L665.20,386.50 Z" fill="#1e1c1d"/>
<line x1="752.70" y1="384.50" x2="834.60" y2="384.50" stroke="#4a4a4a" stroke-width="1.0" stroke-linecap="butt"/>
<path d="M834.60,384.50 L824.00,386.50 L824.00,382.50 Z" fill="#1e1c1d"/>
<path d="M0.86,0.16 A0.5,0.5 0 1 0 1,0.5 H0.52" transform="translate(739.55 375.85) scale(11.900 11.900)" stroke="#1e1c1d" stroke-width="1.3" fill="none" vector-effect="non-scaling-stroke" stroke-linejoin="miter" stroke-miterlimit="3" stroke-linecap="square"/>
<path d="M584.0,412.0 H632.8 L666.0,338.8" stroke="#4a4a4a" stroke-width="1.0" fill="none" stroke-linejoin="round" />
<path d="M667.40,335.80 L664.84,346.28 L661.20,344.62 Z" fill="#1e1c1d"/>
<path d="M0.74,1 V0 L0,0.7 H1" transform="translate(591.55 395.25) scale(7.700 11.500)" stroke="#1e1c1d" stroke-width="1.3" fill="none" vector-effect="non-scaling-stroke" stroke-linejoin="miter" stroke-miterlimit="3" stroke-linecap="square"/>
<line x1="601.30" y1="402.50" x2="605.70" y2="402.50" stroke="#1e1c1d" stroke-width="1.2" stroke-linecap="butt"/>
<ellipse cx="613.1999999999999" cy="402.7" rx="4.2" ry="4.7" stroke="#1e1c1d" stroke-width="1.15" fill="none"/>
<line x1="613.50" y1="396.20" x2="613.50" y2="408.70" stroke="#1e1c1d" stroke-width="1.0" stroke-linecap="butt"/>
<path d="M0,0 V1 M1,0 V1 M0,0.5 H1" transform="translate(620.75 395.55) scale(7.700 11.200)" stroke="#1e1c1d" stroke-width="1.3" fill="none" vector-effect="non-scaling-stroke" stroke-linejoin="miter" stroke-miterlimit="3" stroke-linecap="square"/>
<path d="M953,169.5 H1093.5 A14.5,14.5 0 0 1 1108,184 V323.3 A14.5,14.5 0 0 1 1093.5,337.8 H953 A14.5,14.5 0 0 1 938.5,323.3 V184 A14.5,14.5 0 0 1 953,169.5 Z" stroke="#1e1c1d" stroke-width="1.5" fill="none" stroke-linejoin="round" />
<circle cx="955.60" cy="185.60" r="4.50" stroke="#1e1c1d" stroke-width="1.3" fill="none"/>
<line x1="948.18" y1="178.18" x2="963.02" y2="193.02" stroke="#4a4a4a" stroke-width="0.7" stroke-linecap="butt"/>
<line x1="948.18" y1="193.02" x2="963.02" y2="178.18" stroke="#4a4a4a" stroke-width="0.7" stroke-linecap="butt"/>
<circle cx="1091.00" cy="185.60" r="4.50" stroke="#1e1c1d" stroke-width="1.3" fill="none"/>
<line x1="1083.58" y1="178.18" x2="1098.42" y2="193.02" stroke="#4a4a4a" stroke-width="0.7" stroke-linecap="butt"/>
<line x1="1083.58" y1="193.02" x2="1098.42" y2="178.18" stroke="#4a4a4a" stroke-width="0.7" stroke-linecap="butt"/>
<circle cx="955.50" cy="322.00" r="4.50" stroke="#1e1c1d" stroke-width="1.3" fill="none"/>
<line x1="948.08" y1="314.58" x2="962.92" y2="329.42" stroke="#4a4a4a" stroke-width="0.7" stroke-linecap="butt"/>
<line x1="948.08" y1="329.42" x2="962.92" y2="314.58" stroke="#4a4a4a" stroke-width="0.7" stroke-linecap="butt"/>
<circle cx="1091.00" cy="321.00" r="4.50" stroke="#1e1c1d" stroke-width="1.3" fill="none"/>
<line x1="1083.58" y1="313.58" x2="1098.42" y2="328.42" stroke="#4a4a4a" stroke-width="0.7" stroke-linecap="butt"/>
<line x1="1083.58" y1="328.42" x2="1098.42" y2="313.58" stroke="#4a4a4a" stroke-width="0.7" stroke-linecap="butt"/>
<circle cx="1023.40" cy="230.80" r="31.00" stroke="#1e1c1d" stroke-width="1.5" fill="none"/>
<circle cx="1023.40" cy="230.80" r="12.00" stroke="#1e1c1d" stroke-width="1.5" fill="none"/>
<rect x="1007.2" y="228.2" width="7.3" height="6" fill="#fff" stroke="#1e1c1d" stroke-width="1.3" rx="1"/>
<line x1="1023.50" y1="195.00" x2="1023.50" y2="264.00" stroke="#4a4a4a" stroke-width="1.0" stroke-linecap="butt"/>
<line x1="990.00" y1="231.50" x2="1141.00" y2="231.50" stroke="#4a4a4a" stroke-width="1.0" stroke-linecap="butt"/>
<line x1="1015.40" y1="252.20" x2="1031.60" y2="252.20" stroke="#1e1c1d" stroke-width="1.3" stroke-linecap="butt"/>
<line x1="999.27" y1="246.89" x2="1047.53" y2="214.71" stroke="#4a4a4a" stroke-width="1.0" stroke-linecap="butt"/>
<path d="M1047.53,214.71 L1039.82,222.26 L1037.60,218.93 Z" fill="#1e1c1d"/>
<path d="M999.27,246.89 L1006.98,239.34 L1009.20,242.67 Z" fill="#1e1c1d"/>
<path d="M1047.53,214.71 L1055.6,207.4 H1060" stroke="#4a4a4a" stroke-width="1.0" fill="none" stroke-linejoin="round" />
<path d="M0,0 V1 H0.36 A0.64,0.5 0 0 0 0.36,0 Z" transform="translate(1061.45 200.75) scale(7.700 9.500)" stroke="#1e1c1d" stroke-width="1.3" fill="none" vector-effect="non-scaling-stroke" stroke-linejoin="miter" stroke-miterlimit="3" stroke-linecap="square"/>
<line x1="977.60" y1="286.49" x2="948.20" y2="307.60" stroke="#4a4a4a" stroke-width="1.0" stroke-linecap="butt"/>
<path d="M948.20,307.60 L955.64,299.79 L957.98,303.04 Z" fill="#1e1c1d"/>
<line x1="993.20" y1="275.29" x2="1100.00" y2="198.60" stroke="#4a4a4a" stroke-width="1.0" stroke-linecap="butt"/>
<path d="M1100.00,198.60 L1092.56,206.41 L1090.22,203.16 Z" fill="#1e1c1d"/>
<path d="M1,0 H0 V1 H1 M0,0.5 H0.92" transform="translate(981.85 272.65) scale(5.900 12.300)" stroke="#1e1c1d" stroke-width="1.3" fill="none" vector-effect="non-scaling-stroke" stroke-linejoin="miter" stroke-miterlimit="3" stroke-linecap="square"/>
<line x1="940.00" y1="301.00" x2="955.50" y2="322.00" stroke="#4a4a4a" stroke-width="0.7" stroke-linecap="butt"/>
<line x1="1091.00" y1="185.60" x2="1107.50" y2="205.50" stroke="#4a4a4a" stroke-width="0.7" stroke-linecap="butt"/>
<line x1="1098.00" y1="169.50" x2="1171.00" y2="169.50" stroke="#4a4a4a" stroke-width="1.0" stroke-linecap="butt"/>
<line x1="1098.00" y1="338.50" x2="1171.00" y2="338.50" stroke="#4a4a4a" stroke-width="1.0" stroke-linecap="butt"/>
<line x1="1165.50" y1="243.00" x2="1165.50" y2="169.40" stroke="#4a4a4a" stroke-width="1.0" stroke-linecap="butt"/>
<path d="M1165.50,169.40 L1167.50,180.00 L1163.50,180.00 Z" fill="#1e1c1d"/>
<line x1="1165.50" y1="261.00" x2="1165.50" y2="338.00" stroke="#4a4a4a" stroke-width="1.0" stroke-linecap="butt"/>
<path d="M1165.50,338.00 L1163.50,327.40 L1167.50,327.40 Z" fill="#1e1c1d"/>
<path d="M1,0 H0 V1 M0,0.52 H0.86" transform="translate(1162.25 246.15) scale(5.300 11.300)" stroke="#1e1c1d" stroke-width="1.3" fill="none" vector-effect="non-scaling-stroke" stroke-linejoin="miter" stroke-miterlimit="3" stroke-linecap="square"/>
<line x1="1096.00" y1="185.50" x2="1141.00" y2="185.50" stroke="#4a4a4a" stroke-width="1.0" stroke-linecap="butt"/>
<line x1="1097.00" y1="321.50" x2="1141.00" y2="321.50" stroke="#4a4a4a" stroke-width="1.0" stroke-linecap="butt"/>
<line x1="1135.50" y1="196.00" x2="1135.50" y2="185.60" stroke="#4a4a4a" stroke-width="1.0" stroke-linecap="butt"/>
<path d="M1135.50,185.60 L1137.50,196.20 L1133.50,196.20 Z" fill="#1e1c1d"/>
<line x1="1135.50" y1="218.00" x2="1135.50" y2="231.00" stroke="#4a4a4a" stroke-width="1.0" stroke-linecap="butt"/>
<path d="M1135.50,231.00 L1133.50,220.40 L1137.50,220.40 Z" fill="#1e1c1d"/>
<line x1="1135.50" y1="265.00" x2="1135.50" y2="231.00" stroke="#4a4a4a" stroke-width="1.0" stroke-linecap="butt"/>
<path d="M1135.50,231.00 L1137.50,241.60 L1133.50,241.60 Z" fill="#1e1c1d"/>
<line x1="1135.50" y1="287.00" x2="1135.50" y2="321.00" stroke="#4a4a4a" stroke-width="1.0" stroke-linecap="butt"/>
<path d="M1135.50,321.00 L1133.50,310.40 L1137.50,310.40 Z" fill="#1e1c1d"/>
<path d="M0.04,0.2 C0.1,0.06 0.28,0 0.46,0 C0.7,0 0.86,0.1 0.86,0.23 C0.86,0.36 0.7,0.44 0.4,0.44 C0.75,0.44 1,0.56 1,0.71 C1,0.88 0.78,1 0.5,1 C0.26,1 0.06,0.9 0,0.76" transform="translate(1117.45 199.65) scale(6.700 12.300)" stroke="#1e1c1d" stroke-width="1.3" fill="none" vector-effect="non-scaling-stroke" stroke-linejoin="miter" stroke-miterlimit="3" stroke-linecap="square"/>
<path d="M0.04,0.2 C0.1,0.06 0.28,0 0.46,0 C0.7,0 0.86,0.1 0.86,0.23 C0.86,0.36 0.7,0.44 0.4,0.44 C0.75,0.44 1,0.56 1,0.71 C1,0.88 0.78,1 0.5,1 C0.26,1 0.06,0.9 0,0.76" transform="translate(1127.65 199.65) scale(6.900 12.300)" stroke="#1e1c1d" stroke-width="1.3" fill="none" vector-effect="non-scaling-stroke" stroke-linejoin="miter" stroke-miterlimit="3" stroke-linecap="square"/>
<rect x="1138.05" y="210.45" width="1.90" height="1.90" fill="#1e1c1d"/>
<path d="M0.9,0 H0.28 L0.2,0.42 C0.3,0.37 0.4,0.35 0.52,0.35 C0.8,0.35 1,0.5 1,0.68 C1,0.87 0.8,1 0.52,1 C0.28,1 0.08,0.9 0,0.76" transform="translate(1143.05 200.05) scale(7.500 11.900)" stroke="#1e1c1d" stroke-width="1.3" fill="none" vector-effect="non-scaling-stroke" stroke-linejoin="miter" stroke-miterlimit="3" stroke-linecap="square"/>
<path d="M0.68,0 L0.1,0.55 M0.5,0.41 A0.5,0.295 0 1 0 0.5,1 A0.5,0.295 0 1 0 0.5,0.41" transform="translate(1114.85 270.25) scale(6.900 11.700)" stroke="#1e1c1d" stroke-width="1.3" fill="none" vector-effect="non-scaling-stroke" stroke-linejoin="miter" stroke-miterlimit="3" stroke-linecap="square"/>
<path d="M0.9,0 H0.28 L0.2,0.42 C0.3,0.37 0.4,0.35 0.52,0.35 C0.8,0.35 1,0.5 1,0.68 C1,0.87 0.8,1 0.52,1 C0.28,1 0.08,0.9 0,0.76" transform="translate(1125.25 270.45) scale(6.500 11.500)" stroke="#1e1c1d" stroke-width="1.3" fill="none" vector-effect="non-scaling-stroke" stroke-linejoin="miter" stroke-miterlimit="3" stroke-linecap="square"/>
<rect x="1135.65" y="280.45" width="1.90" height="1.90" fill="#1e1c1d"/>
<path d="M0.9,0 H0.28 L0.2,0.42 C0.3,0.37 0.4,0.35 0.52,0.35 C0.8,0.35 1,0.5 1,0.68 C1,0.87 0.8,1 0.52,1 C0.28,1 0.08,0.9 0,0.76" transform="translate(1141.05 270.45) scale(7.100 11.500)" stroke="#1e1c1d" stroke-width="1.3" fill="none" vector-effect="non-scaling-stroke" stroke-linejoin="miter" stroke-miterlimit="3" stroke-linecap="square"/>
<line x1="938.50" y1="338.00" x2="938.50" y2="389.50" stroke="#4a4a4a" stroke-width="1.0" stroke-linecap="butt"/>
<line x1="1108.50" y1="328.00" x2="1108.50" y2="389.50" stroke="#4a4a4a" stroke-width="1.0" stroke-linecap="butt"/>
<line x1="1015.40" y1="384.50" x2="938.60" y2="384.50" stroke="#4a4a4a" stroke-width="1.0" stroke-linecap="butt"/>
<path d="M938.60,384.50 L949.20,382.50 L949.20,386.50 Z" fill="#1e1c1d"/>
<line x1="1031.80" y1="384.50" x2="1108.40" y2="384.50" stroke="#4a4a4a" stroke-width="1.0" stroke-linecap="butt"/>
<path d="M1108.40,384.50 L1097.80,386.50 L1097.80,382.50 Z" fill="#1e1c1d"/>
<path d="M0.86,0.16 A0.5,0.5 0 1 0 1,0.5 H0.52" transform="translate(1018.45 375.75) scale(11.700 12.000)" stroke="#1e1c1d" stroke-width="1.3" fill="none" vector-effect="non-scaling-stroke" stroke-linejoin="miter" stroke-miterlimit="3" stroke-linecap="square"/>
<path d="M866.2,415.5 H915.4 L950.8,336.6" stroke="#4a4a4a" stroke-width="1.0" fill="none" stroke-linejoin="round" />
<path d="M952.20,333.70 L949.68,344.19 L946.03,342.55 Z" fill="#1e1c1d"/>
<path d="M0.74,1 V0 L0,0.7 H1" transform="translate(873.25 399.95) scale(7.700 11.500)" stroke="#1e1c1d" stroke-width="1.3" fill="none" vector-effect="non-scaling-stroke" stroke-linejoin="miter" stroke-miterlimit="3" stroke-linecap="square"/>
<line x1="883.00" y1="407.20" x2="887.40" y2="407.20" stroke="#1e1c1d" stroke-width="1.2" stroke-linecap="butt"/>
<ellipse cx="894.9" cy="407.40000000000003" rx="4.2" ry="4.7" stroke="#1e1c1d" stroke-width="1.15" fill="none"/>
<line x1="894.50" y1="400.90" x2="894.50" y2="413.40" stroke="#1e1c1d" stroke-width="1.0" stroke-linecap="butt"/>
<path d="M0,0 V1 M1,0 V1 M0,0.5 H1" transform="translate(902.45 400.25) scale(7.700 11.200)" stroke="#1e1c1d" stroke-width="1.3" fill="none" vector-effect="non-scaling-stroke" stroke-linejoin="miter" stroke-miterlimit="3" stroke-linecap="square"/>
<path d="M0,0.47 H0.44 A0.44,0.235 0 0 0 0.44,0 H0 V1 H0.5 A0.5,0.265 0 0 0 0.5,0.47" transform="translate(907.88 446.48) scale(7.150 14.650)" stroke="#1e1c1d" stroke-width="2.95" fill="none" vector-effect="non-scaling-stroke" stroke-linejoin="miter" stroke-miterlimit="2" stroke-linecap="square"/>
<path d="M920.4,446.2 H931" stroke="#231f20" stroke-width="2.5" fill="none" stroke-linejoin="round" stroke-linecap="butt"/>
<path d="M920.0,452.6 H931.6" stroke="#231f20" stroke-width="2.5" fill="none" stroke-linejoin="round" stroke-linecap="butt"/>
<path d="M923.4,446.2 V452.6 C923.2,456 922,458 919.8,459.6" stroke="#231f20" stroke-width="2.5" fill="none" stroke-linejoin="round" stroke-linecap="butt"/>
<path d="M927.8,446.2 V458.4" stroke="#231f20" stroke-width="2.5" fill="none" stroke-linejoin="round" stroke-linecap="butt"/>
<path d="M934.4,446 V455" stroke="#231f20" stroke-width="2.5" fill="none" stroke-linejoin="round" stroke-linecap="butt"/>
<path d="M939.6,443.8 V457.6 Q939.6,459 938,459" stroke="#231f20" stroke-width="2.5" fill="none" stroke-linejoin="round" stroke-linecap="butt"/>
<path d="M921.6,461.6 H940.6" stroke="#231f20" stroke-width="2.5" fill="none" stroke-linejoin="round" stroke-linecap="butt"/>
<path d="M920.2,466 H942" stroke="#231f20" stroke-width="2.5" fill="none" stroke-linejoin="round" stroke-linecap="butt"/>
<path d="M931.2,457.6 V466" stroke="#231f20" stroke-width="2.5" fill="none" stroke-linejoin="round" stroke-linecap="butt"/>
<path d="M948.6,445.6 L952.2,448.4" stroke="#231f20" stroke-width="2.5" fill="none" stroke-linejoin="round" stroke-linecap="butt"/>
<path d="M948.6,451.8 L952.4,454.4" stroke="#231f20" stroke-width="2.5" fill="none" stroke-linejoin="round" stroke-linecap="butt"/>
<path d="M948.4,466 L953.2,458.4" stroke="#231f20" stroke-width="2.5" fill="none" stroke-linejoin="round" stroke-linecap="butt"/>
<path d="M955.6,448.2 H969.6" stroke="#231f20" stroke-width="2.5" fill="none" stroke-linejoin="round" stroke-linecap="butt"/>
<path d="M962.4,443.8 V454" stroke="#231f20" stroke-width="2.5" fill="none" stroke-linejoin="round" stroke-linecap="butt"/>
<path d="M954.6,454 H971" stroke="#231f20" stroke-width="2.5" fill="none" stroke-linejoin="round" stroke-linecap="butt"/>
<path d="M960.4,455.4 L955.6,465.2 L968.6,464" stroke="#231f20" stroke-width="2.5" fill="none" stroke-linejoin="round" stroke-linecap="butt"/>
<path d="M964.6,459.6 L970.6,466" stroke="#231f20" stroke-width="2.5" fill="none" stroke-linejoin="round" stroke-linecap="butt"/>
<path d="M977,446.6 H999.5" stroke="#231f20" stroke-width="2.5" fill="none" stroke-linejoin="round" stroke-linecap="butt"/>
<path d="M982.4,443.9 V449.4" stroke="#231f20" stroke-width="2.5" fill="none" stroke-linejoin="round" stroke-linecap="butt"/>
<path d="M993.8,443.9 V449.4" stroke="#231f20" stroke-width="2.5" fill="none" stroke-linejoin="round" stroke-linecap="butt"/>
<path d="M978.2,450 V466.4" stroke="#231f20" stroke-width="2.5" fill="none" stroke-linejoin="round" stroke-linecap="butt"/>
<path d="M998,450.2 V464.8 Q998,466.2 996.4,466.2 H995" stroke="#231f20" stroke-width="2.5" fill="none" stroke-linejoin="round" stroke-linecap="butt"/>
<path d="M978.2,450.6 H984.6 V455.4 H978.2" stroke="#231f20" stroke-width="1.6" fill="none" stroke-linejoin="round" stroke-linecap="butt"/>
<path d="M978.2,453.0 H984.6" stroke="#231f20" stroke-width="1.6" fill="none" stroke-linejoin="round" stroke-linecap="butt"/>
<path d="M991.6,450.6 H998" stroke="#231f20" stroke-width="1.6" fill="none" stroke-linejoin="round" stroke-linecap="butt"/>
<path d="M991.6,450.6 V455.4 H998" stroke="#231f20" stroke-width="1.6" fill="none" stroke-linejoin="round" stroke-linecap="butt"/>
<path d="M991.6,453.0 H998" stroke="#231f20" stroke-width="1.6" fill="none" stroke-linejoin="round" stroke-linecap="butt"/>
<path d="M981.8,457.4 H994.2" stroke="#231f20" stroke-width="1.6" fill="none" stroke-linejoin="round" stroke-linecap="butt"/>
<path d="M983.4,459.3 H992.4 V463.4 H983.4 Z" stroke="#231f20" stroke-width="1.6" fill="none" stroke-linejoin="round" stroke-linecap="butt"/>
<path d="M987.9,456.2 V466.4" stroke="#231f20" stroke-width="1.6" fill="none" stroke-linejoin="round" stroke-linecap="butt"/>
<path d="M983.4,461.35 H992.4" stroke="#231f20" stroke-width="1.6" fill="none" stroke-linejoin="round" stroke-linecap="butt"/>
<path d="M986.8,463.6 L982.8,466.2" stroke="#231f20" stroke-width="1.6" fill="none" stroke-linejoin="round" stroke-linecap="butt"/>
<path d="M989.0,463.6 L993.2,466.2" stroke="#231f20" stroke-width="1.6" fill="none" stroke-linejoin="round" stroke-linecap="butt"/>
<path d="M0,0.47 H0.44 A0.44,0.235 0 0 0 0.44,0 H0 V1 H0.5 A0.5,0.265 0 0 0 0.5,0.47" transform="translate(1019.08 446.38) scale(7.950 15.050)" stroke="#1e1c1d" stroke-width="2.95" fill="none" vector-effect="non-scaling-stroke" stroke-linejoin="miter" stroke-miterlimit="1.6" stroke-linecap="square"/>
<path d="M0,0 H1 M0.5,0 V1" transform="translate(1038.27 446.38) scale(6.050 15.050)" stroke="#1e1c1d" stroke-width="2.95" fill="none" vector-effect="non-scaling-stroke" stroke-linejoin="miter" stroke-miterlimit="1.6" stroke-linecap="square"/>
<path d="M0,0 L0.5,0.5 L1,0 M0.5,0.5 V1" transform="translate(1048.38 446.38) scale(10.950 15.050)" stroke="#1e1c1d" stroke-width="2.95" fill="none" vector-effect="non-scaling-stroke" stroke-linejoin="miter" stroke-miterlimit="1.6" stroke-linecap="square"/>
<path d="M0,1 V0 H0.48 A0.52,0.28 0 0 1 0.48,0.56 H0" transform="translate(1065.57 446.38) scale(7.250 15.050)" stroke="#1e1c1d" stroke-width="2.95" fill="none" vector-effect="non-scaling-stroke" stroke-linejoin="miter" stroke-miterlimit="1.6" stroke-linecap="square"/>
<path d="M1,0 H0 V1 H1 M0,0.5 H0.92" transform="translate(1080.57 446.38) scale(6.050 15.050)" stroke="#1e1c1d" stroke-width="2.95" fill="none" vector-effect="non-scaling-stroke" stroke-linejoin="miter" stroke-miterlimit="1.6" stroke-linecap="square"/>
<path d="M1,0 H0 V1 M0,0.52 H0.86" transform="translate(1100.47 446.38) scale(6.050 15.050)" stroke="#1e1c1d" stroke-width="2.95" fill="none" vector-effect="non-scaling-stroke" stroke-linejoin="miter" stroke-miterlimit="1.6" stroke-linecap="square"/>
<path d="M0,0 V1 H1" transform="translate(1114.38 446.38) scale(5.650 15.050)" stroke="#1e1c1d" stroke-width="2.95" fill="none" vector-effect="non-scaling-stroke" stroke-linejoin="miter" stroke-miterlimit="1.6" stroke-linecap="square"/>
<path d="M0,1 L0.5,0 L1,1 M0.19,0.64 H0.81" transform="translate(1125.27 446.38) scale(13.550 15.050)" stroke="#1e1c1d" stroke-width="2.95" fill="none" vector-effect="non-scaling-stroke" stroke-linejoin="miter" stroke-miterlimit="1.6" stroke-linecap="square"/>
<path d="M0,1 V0 L1,1 V0" transform="translate(1144.77 446.38) scale(10.550 15.050)" stroke="#1e1c1d" stroke-width="2.95" fill="none" vector-effect="non-scaling-stroke" stroke-linejoin="miter" stroke-miterlimit="1.6" stroke-linecap="square"/>
<path d="M0.86,0.16 A0.5,0.5 0 1 0 1,0.5 H0.52" transform="translate(1161.97 446.38) scale(16.550 15.050)" stroke="#1e1c1d" stroke-width="2.95" fill="none" vector-effect="non-scaling-stroke" stroke-linejoin="miter" stroke-miterlimit="1.6" stroke-linecap="square"/>
<path d="M1,0 H0 V1 H1 M0,0.5 H0.92" transform="translate(1185.57 446.38) scale(6.050 15.050)" stroke="#1e1c1d" stroke-width="2.95" fill="none" vector-effect="non-scaling-stroke" stroke-linejoin="miter" stroke-miterlimit="1.6" stroke-linecap="square"/>
</svg>
</body></html>
